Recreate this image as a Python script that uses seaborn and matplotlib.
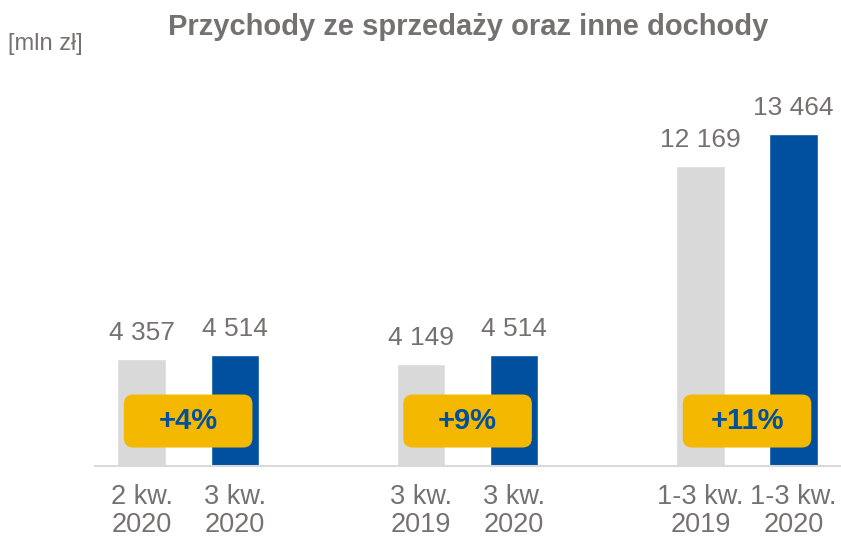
import matplotlib
matplotlib.use("Agg")
import matplotlib.pyplot as plt
from matplotlib.patches import FancyBboxPatch
import seaborn as sns
import pandas as pd

## chart data ##
slots = [0, 1, 3, 4, 6, 7]
periods = ["2 kw.\n2020", "3 kw.\n2020", "3 kw.\n2019", "3 kw.\n2020", "1-3 kw.\n2019", "1-3 kw.\n2020"]
kinds = ["prev", "curr", "prev", "curr", "prev", "curr"]
revenue = [4357, 4514, 4149, 4514, 12169, 13464]
changes = ["+4%", "+9%", "+11%"]

grey_text = "#767171"
bar_grey = "#D9D9D9"
bar_blue = "#00509F"
badge_yellow = "#F5B800"

df = pd.DataFrame({"pos": slots, "period": periods, "kind": kinds, "value": revenue})

sns.set_style("white")
plt.rcParams["font.family"] = ["Liberation Sans", "DejaVu Sans"]

fig = plt.figure(figsize=(8.41, 5.40), dpi=100)
ax = fig.add_axes([0.113, 0.137, 0.886, 0.685])

sns.barplot(data=df, x="pos", y="value", hue="kind", native_scale=True, dodge=False,
            palette={"prev": bar_grey, "curr": bar_blue}, width=0.52, legend=False,
            saturation=1, ax=ax)

ax.set_xlim(-0.5, 7.5)
ax.set_ylim(0, 15000)

# value labels over bars
for x, v in zip(slots, revenue):
    ax.annotate(f"{v:,}".replace(",", " "), (x, v), xytext=(0, 10), textcoords="offset points",
                ha="center", va="bottom", fontsize=19, color=grey_text)

# yellow badges with change
for i, txt in enumerate(changes):
    cx = (slots[2 * i] + slots[2 * i + 1]) / 2
    w, h, cy = 1.38, 2150, 1825
    box = FancyBboxPatch((cx - w / 2, cy - h / 2), w, h,
                         boxstyle="round,pad=0,rounding_size=0.1",
                         mutation_aspect=3770, fc=badge_yellow, ec="none", zorder=3)
    ax.add_patch(box)
    ax.text(cx, cy, txt, ha="center", va="center", fontsize=21, fontweight="bold",
            color=bar_blue, zorder=4)

ax.set_xticks(slots)
ax.set_xticklabels(periods, fontsize=19.5, color=grey_text, linespacing=1.12)
ax.tick_params(axis="x", length=0, pad=13)
ax.set_yticks([])
ax.set_xlabel("")
ax.set_ylabel("")

for s in ["top", "left", "right"]:
    ax.spines[s].set_visible(False)
ax.spines["bottom"].set_color(bar_grey)
ax.spines["bottom"].set_linewidth(1.5)

fig.text(0.557, 0.95, "Przychody ze sprzedaży oraz inne dochody", ha="center", va="center",
         fontsize=21, fontweight="bold", color=grey_text)
fig.text(0.01, 0.918, "[mln zł]", ha="left", va="center", fontsize=17, color=grey_text)

fig.savefig("out.png", dpi=100)
